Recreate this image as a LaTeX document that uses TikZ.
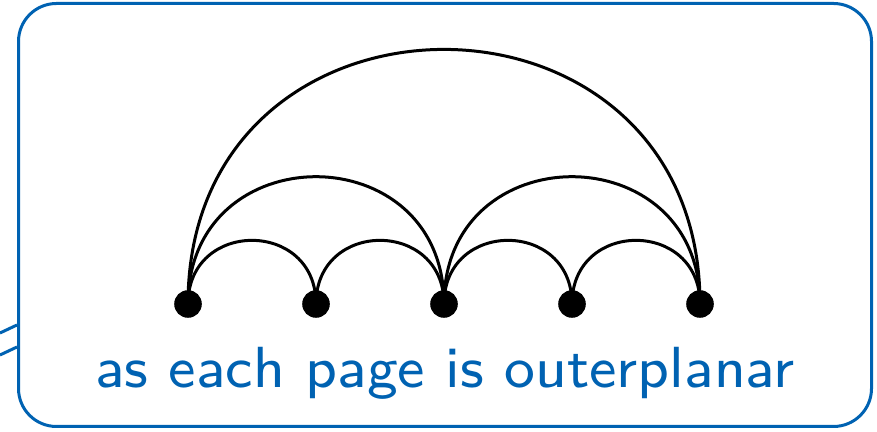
\documentclass[tikz,border=0pt]{standalone}
\usepackage{fontspec}
\newfontfamily\capfont{lmsans8-regular}[Extension=.otf]
\definecolor{boxblue}{RGB}{0,98,178}
\tikzset{
  vtx/.style={circle,fill=black,inner sep=0pt,minimum size=13.8pt},
  edge/.style={line width=1.5pt,black},
  frame/.style={draw=boxblue,line width=1.5pt,rounded corners=19pt},
  caption/.style={text=boxblue,font=\capfont\fontsize{29}{34}\selectfont,anchor=base,inner sep=0pt}
}
\begin{document}
\begin{tikzpicture}[x=0.5pt,y=0.5pt]
\useasboundingbox (0,0) rectangle (877,432);
% callout pointer lines
\coordinate (p1) at (0,99);
\coordinate (q1) at (17,107);
\coordinate (p2) at (0,77);
\coordinate (q2) at (17,85);
\draw[boxblue,line width=1.5pt] (p1) -- (q1);
\draw[boxblue,line width=1.5pt] (p2) -- (q2);
\node[frame,minimum width=853*0.5pt,minimum height=423*0.5pt,anchor=south west,inner sep=0pt] (box) at (17,4) {};
% vertices
\foreach \i/\x in {1/188,2/316,3/444,4/572,5/700}{
  \coordinate (c\i) at (\x,128);
}
\draw[edge] (c1) to[out=90,in=90,looseness=1.7] (c2);
\draw[edge] (c2) to[out=90,in=90,looseness=1.7] (c3);
\draw[edge] (c3) to[out=90,in=90,looseness=1.7] (c4);
\draw[edge] (c4) to[out=90,in=90,looseness=1.7] (c5);
\draw[edge] (c1) to[out=90,in=90,looseness=1.7] (c3);
\draw[edge] (c3) to[out=90,in=90,looseness=1.7] (c5);
\draw[edge] (c1) to[out=90,in=90,looseness=1.7] (c5);
\foreach \i in {1,...,5}{
  \node[vtx] (v\i) at (c\i) {};
}
\node[caption] (cap) at (445,44) {as each page is outerplanar};
\end{tikzpicture}
\end{document}
